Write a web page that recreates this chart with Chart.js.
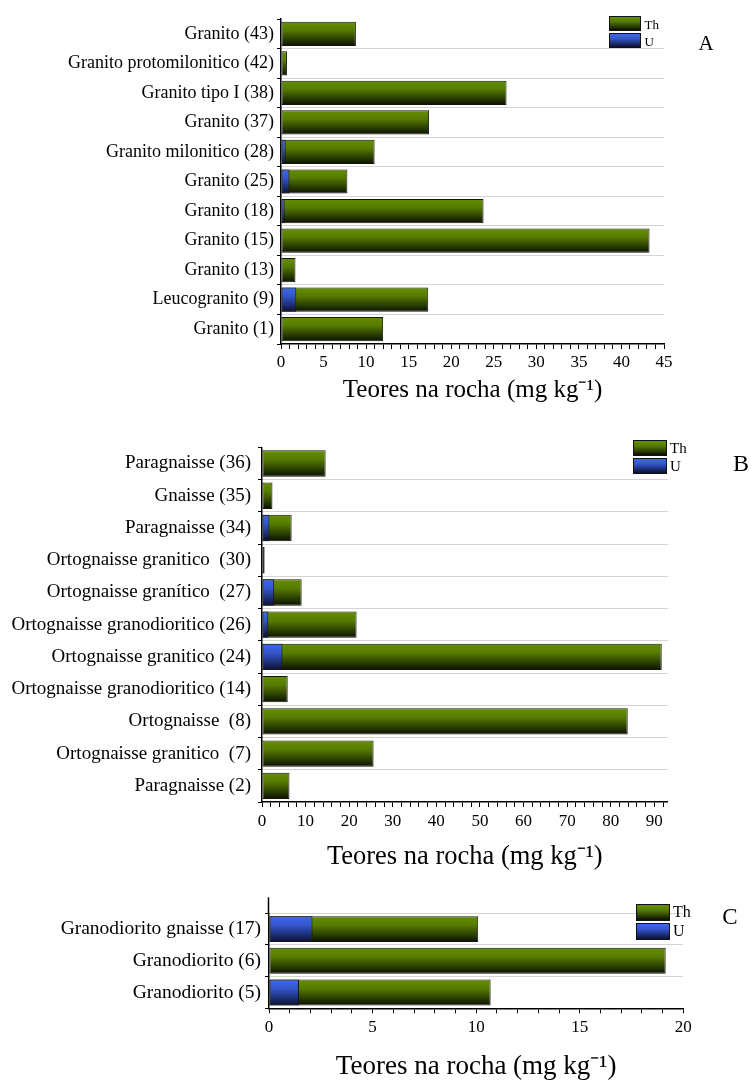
<!DOCTYPE html>
<html>
<head>
<meta charset="utf-8">
<script src="https://cdn.jsdelivr.net/npm/chart.js@4.4.1/dist/chart.umd.min.js"></script>
<style>
  html, body { margin: 0; padding: 0; background: #fff; }
  #page { position: relative; width: 751px; height: 1082px; overflow: hidden;
          font-family: "Liberation Serif", "Times New Roman", serif; color: #000; }
  #page canvas { position: absolute; left: 0; }
  .swatch { position: absolute; box-sizing: border-box; border: 1px solid #111; }
  .legend-label, .panel { position: absolute; line-height: 1; white-space: nowrap; }
  .legend-label { transform: translateY(-50%); }
  .panel { transform: translate(-50%, -50%); }
</style>
</head>
<body>
<div id="page">
  <canvas id="chartA" width="751" height="410" style="top:0px"></canvas>
  <canvas id="chartB" width="751" height="460" style="top:420px"></canvas>
  <canvas id="chartC" width="751" height="202" style="top:880px"></canvas>
</div>
<script>
// --- data (mg/kg) ---
const seriesNames = ["Th", "U"]
const axisTitle = "Teores na rocha (mg kg⁻¹)"

const categoriesA = ["Granito (43)", "Granito protomilonitico (42)", "Granito tipo I (38)", "Granito (37)",
  "Granito milonitico (28)", "Granito (25)", "Granito (18)", "Granito (15)", "Granito (13)",
  "Leucogranito (9)", "Granito (1)"]
const thA = [8.8, 0.7, 26.5, 17.4, 11.0, 7.8, 23.8, 43.3, 1.7, 17.3, 12.0]
const uA = [null, null, null, null, 0.55, 1.0, 0.43, null, null, 1.8, null]

const categoriesB = ["Paragnaisse (36)", "Gnaisse (35)", "Paragnaisse (34)", "Ortognaisse granitico  (30)",
  "Ortognaisse granítico  (27)", "Ortognaisse granodioritico (26)", "Ortognaisse granitico (24)",
  "Ortognaisse granodioritico (14)", "Ortognaisse  (8)", "Ortognaisse granitico  (7)", "Paragnaisse (2)"]
const thB = [14.6, 2.4, 6.8, 0.6, 9.1, 21.7, 91.7, 5.9, 83.9, 25.6, 6.3]
const uB = [null, null, 1.7, null, 2.8, 1.45, 4.7, null, null, null, null]

const categoriesC = ["Granodiorito gnaisse (17)", "Granodiorito (6)", "Granodiorito (5)"]
const thC = [10.1, 19.15, 10.7]
const uC = [2.1, null, 1.45]

// tick settings per panel: axis max, minor step, labelled every
const ticksA = { max: 45, step: 1, every: 5 }
const ticksB = { max: 93, step: 2, every: 10 }
const ticksC = { max: 20, step: 1, every: 5 }

// --- styling ---
const FONT = "'Liberation Serif', 'Times New Roman', serif"
const BAR_PCT = 0.82
const thStops = [[0, "#648f00"], [0.35, "#567b00"], [1, "#0a1000"]]
const uStops = [[0, "#3f68f0"], [0.35, "#3456cc"], [1, "#0a1030"]]

// vertical gradient spanning each bar, computed from the category scale
const barGradient = (stops) => (ctx) => {
  const chart = ctx.chart
  const y = chart.scales && chart.scales.y
  if (ctx.type !== "data" || !y) return stops[1][1]
  const c = y.getPixelForValue(ctx.dataIndex)
  const half = Math.abs(y.getPixelForValue(1) - y.getPixelForValue(0)) * BAR_PCT / 2
  if (!isFinite(c) || !isFinite(half) || half <= 0) return stops[1][1]
  const g = chart.ctx.createLinearGradient(0, c - half, 0, c + half)
  stops.forEach(([o, col]) => g.addColorStop(o, col))
  return g
}

// panel C has its y axis line running a little above the first category
const axisExtension = {
  id: "axisExtension",
  afterDraw(chart, args, opts) {
    if (!opts.length) return
    const { ctx, chartArea } = chart
    ctx.save()
    ctx.strokeStyle = "#000"
    ctx.lineWidth = 1.5
    ctx.beginPath()
    ctx.moveTo(chartArea.left - 0.5, chartArea.top - opts.length)
    ctx.lineTo(chartArea.left - 0.5, chartArea.top)
    ctx.stroke()
    ctx.restore()
  },
}

function makeChart(id, categories, th, u, t, lay) {
  return new Chart(document.getElementById(id), {
    type: "bar",
    data: {
      labels: categories,
      datasets: [
        { label: seriesNames[0], data: th, order: 1, backgroundColor: barGradient(thStops) },
        { label: seriesNames[1], data: u, order: 0, backgroundColor: barGradient(uStops) },
      ],
    },
    plugins: [axisExtension],
    options: {
      indexAxis: "y",
      responsive: false,
      animation: false,
      datasets: {
        bar: {
          grouped: false,
          barPercentage: BAR_PCT,
          categoryPercentage: 1,
          borderWidth: 1,
          borderColor: "#151515",
          borderSkipped: false,
        },
      },
      layout: { padding: { top: lay.top, right: lay.right, bottom: 0, left: 0 } },
      scales: {
        x: {
          min: 0,
          max: t.max,
          afterFit: (s) => { s.height = lay.axisH },
          border: { color: "#000", width: 1.5 },
          grid: { drawOnChartArea: false, drawTicks: true, tickLength: 5, tickColor: "#000", tickWidth: 1 },
          ticks: {
            stepSize: t.step,
            autoSkip: false,
            includeBounds: false,
            maxRotation: 0,
            padding: lay.xPad,
            color: "#000",
            font: { family: FONT, size: 17, lineHeight: 1 },
            callback: (v) => (v % t.every === 0 ? v : ""),
          },
          title: {
            display: true,
            text: axisTitle,
            color: "#000",
            padding: { top: 0, bottom: lay.titlePad },
            font: { family: FONT, size: lay.titleSize, lineHeight: 1 },
          },
        },
        y: {
          afterFit: (s) => { s.width = lay.left },
          border: { color: "#000", width: 1.5, dash: [1, 1] },
          grid: {
            offset: true,
            tickLength: 4,
            tickColor: "#000",
            lineWidth: 1,
            color: (c) => (c.index === undefined || (c.index === 0 && !lay.topGrid) ? "rgba(0,0,0,0)" : "#a8a8a8"),
          },
          ticks: {
            autoSkip: false,
            padding: lay.yPad,
            color: "#000",
            font: { family: FONT, size: lay.labelSize, lineHeight: 1 },
          },
        },
      },
      plugins: {
        legend: { display: false },
        tooltip: { enabled: false },
        axisExtension: { length: lay.extend || 0 },
      },
    },
  })
}

const charts = [
  makeChart("chartA", categoriesA, thA, uA, ticksA,
    { top: 19, right: 87, left: 281, axisH: 66, xPad: 5.2, yPad: 3, labelSize: 18, titleSize: 25, titlePad: 7.5 }),
  makeChart("chartB", categoriesB, thB, uB, ticksB,
    { top: 27.3, right: 83.6, left: 262, axisH: 78, xPad: 6.2, yPad: 7, labelSize: 19, titleSize: 26.5, titlePad: 9.3 }),
  makeChart("chartC", categoriesC, thC, uC, ticksC,
    { top: 33.3, right: 67.7, left: 269, axisH: 73.7, xPad: 5.7, yPad: 4, labelSize: 19.5, titleSize: 27, titlePad: 1.5, topGrid: true, extend: 16 }),
]

// legends (Th above U) and panel letters, positioned in page pixels
const page = document.getElementById("page")
const cssGradient = (stops) => "linear-gradient(to bottom, " + stops.map(([o, c]) => c + " " + o * 100 + "%").join(", ") + ")"

function addLegend(box) {
  const stops = [thStops, uStops]
  seriesNames.forEach((name, i) => {
    const top = box.y + i * (box.h + box.gap)
    const sw = document.createElement("div")
    sw.className = "swatch"
    Object.assign(sw.style, { left: box.x + "px", top: top + "px", width: box.w + "px", height: box.h + "px",
      background: cssGradient(stops[i]) })
    page.appendChild(sw)
    const lb = document.createElement("div")
    lb.className = "legend-label"
    lb.textContent = name
    Object.assign(lb.style, { left: box.x + box.w + 3.5 + "px", top: top + box.h / 2 + "px", fontSize: box.font + "px" })
    page.appendChild(lb)
  })
}

function addPanel(letter, x, y, size) {
  const d = document.createElement("div")
  d.className = "panel"
  d.textContent = letter
  Object.assign(d.style, { left: x + "px", top: y + "px", fontSize: size + "px" })
  page.appendChild(d)
}

addLegend({ x: 609, y: 16, w: 32, h: 15, gap: 2, font: 13 })
addLegend({ x: 633, y: 439.5, w: 33.5, h: 16, gap: 2, font: 15 })
addLegend({ x: 636, y: 903.5, w: 33.5, h: 17, gap: 2, font: 16 })
addPanel("A", 706, 43, 21)
addPanel("B", 741, 463, 24)
addPanel("C", 730, 916, 23)
</script>
</body>
</html>
